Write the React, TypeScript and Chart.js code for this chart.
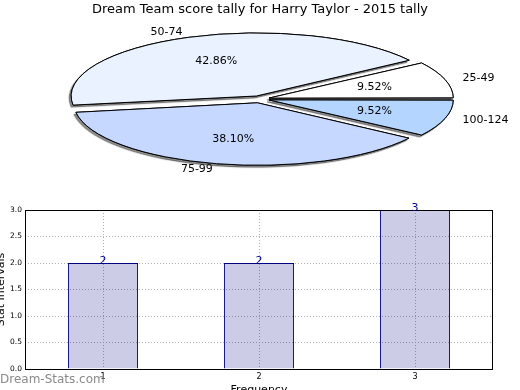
import React, { useEffect, useRef } from "react";
import { Chart, registerables } from "chart.js";

Chart.register(...registerables);

// ---- data ----
const pieLabels = ["100-124", "75-99", "50-74", "25-49"];
const pieValues = [2, 8, 9, 2];
const pieColors = ["#b4d5ff", "#c6d8ff", "#eaf1ff", "#ffffff"];

const barCategories = ["1", "2", "3"];
const barValues = [2, 2, 3];

const TITLE = "Dream Team score tally for Harry Taylor - 2015 tally";
const Y_TITLE = "Stat Intervals";
const X_TITLE = "Frequency";
const WATERMARK = "Dream-Stats.com";

const FONT = "'DejaVu Sans', sans-serif";
const K = 0.34; // vertical squash of the pie (ellipse)
const EXPLODE = [38, 46, 38, 38]; // chart.js arc offsets
const RADIUS = 180;
const LABEL_R = 184;

const ellipsePlugin = {
  id: "ellipsePie",
  beforeDatasetsDraw(chart: any) {
    const ctx = chart.ctx;
    const a = chart.chartArea;
    const cy = (a.top + a.bottom) / 2;
    ctx.save();
    ctx.transform(1, 0, 0, K, 0, cy * (1 - K));
    (ctx as any).stroke = function (...args: any[]) {
      this.save();
      this.setTransform(1, 0, 0, 1, 0, 0);
      (CanvasRenderingContext2D.prototype.stroke as any).apply(this, args);
      this.restore();
    };
    ctx.shadowColor = "rgba(0,0,0,0.45)";
    ctx.shadowOffsetX = -2;
    ctx.shadowOffsetY = 2;
    ctx.shadowBlur = 1;
  },
  afterDatasetsDraw(chart: any) {
    const ctx = chart.ctx;
    ctx.shadowColor = "rgba(0,0,0,0)";
    ctx.shadowOffsetX = 0;
    ctx.shadowOffsetY = 0;
    ctx.shadowBlur = 0;
    const meta = chart.getDatasetMeta(0);
    meta.data.forEach((el: any) => el.draw(ctx));
    delete (ctx as any).stroke;
    ctx.restore();

    // labels
    const total = pieValues.reduce((s, v) => s + v, 0);
    ctx.save();
    ctx.font = `11px ${FONT}`;
    ctx.fillStyle = "#000";
    ctx.textBaseline = "middle";
    meta.data.forEach((el: any, i: number) => {
      const t = 38 / 4;
      const mid = (el.startAngle + el.endAngle) / 2;
      const c = Math.cos(mid);
      const s = Math.sin(mid);
      const cx = el.x;
      const cy = el.y;
      const rp = t + 0.6 * LABEL_R;
      ctx.textAlign = "center";
      ctx.fillText(
        ((pieValues[i] / total) * 100).toFixed(2) + "%",
        cx + c * rp,
        cy + s * rp * K
      );
      const rl = t + 1.1 * LABEL_R;
      ctx.textAlign = c > 0 ? "left" : "right";
      ctx.fillText(pieLabels[i], cx + c * rl, cy + s * rl * K);
    });
    ctx.restore();
  },
};

const barPlugin = {
  id: "barExtras",
  afterDatasetsDraw(chart: any) {
    const ctx = chart.ctx;
    const a = chart.chartArea;
    ctx.save();
    // frame
    ctx.strokeStyle = "#000";
    ctx.lineWidth = 1;
    ctx.strokeRect(a.left + 0.5, a.top + 0.5, a.right - a.left - 1, a.bottom - a.top);
    // values
    ctx.font = `11px ${FONT}`;
    ctx.fillStyle = "#000080";
    ctx.textAlign = "center";
    ctx.textBaseline = "alphabetic";
    const meta = chart.getDatasetMeta(0);
    meta.data.forEach((el: any, i: number) => {
      ctx.fillText(String(barValues[i]), el.x, el.y + 0.5);
    });
    // watermark
    ctx.font = `12px ${FONT}`;
    ctx.fillStyle = "#8a8a8a";
    ctx.textAlign = "left";
    ctx.textBaseline = "middle";
    ctx.fillText(WATERMARK, 0, 189.5);
    ctx.restore();
  },
};

export default function App() {
  const pieRef = useRef<HTMLCanvasElement>(null);
  const barRef = useRef<HTMLCanvasElement>(null);

  useEffect(() => {
    const pie = new Chart(pieRef.current as HTMLCanvasElement, {
      type: "pie",
      data: {
        labels: pieLabels,
        datasets: [
          {
            data: pieValues,
            backgroundColor: pieColors,
            borderColor: "#000",
            borderWidth: 1,
            offset: EXPLODE,
            clip: false,
          } as any,
        ],
      },
      options: {
        animation: false,
        responsive: false,
        rotation: 90,
        radius: RADIUS,
        layout: { padding: { top: 0, bottom: 21.6, left: 0, right: 0 } },
        plugins: {
          legend: { display: false },
          tooltip: { enabled: false },
          title: {
            display: true,
            text: TITLE,
            color: "#000",
            font: { family: FONT, size: 13, weight: "normal" },
            padding: { top: 2, bottom: 2 },
          },
        },
      } as any,
      plugins: [ellipsePlugin],
    });

    const bar = new Chart(barRef.current as HTMLCanvasElement, {
      type: "bar",
      data: {
        labels: barCategories,
        datasets: [
          {
            data: barValues,
            backgroundColor: "rgba(0,0,128,0.2)",
            borderColor: "#000080",
            borderWidth: 1,
            barPercentage: 0.45,
            categoryPercentage: 1,
          },
        ],
      },
      options: {
        animation: false,
        responsive: false,
        layout: { padding: { top: 20, right: 27, left: 0, bottom: 0 } },
        scales: {
          x: {
            grid: { offset: false, color: "#b0b0b0", drawTicks: false, lineWidth: 1 },
            border: { display: false, dash: [1, 2] },
            ticks: { font: { family: FONT, size: 8 }, color: "#000", padding: 3 },
            title: {
              display: true,
              text: X_TITLE,
              color: "#000",
              font: { family: FONT, size: 11 },
              padding: { top: 0, bottom: -6.3 },
            },
            afterFit: (s: any) => {
              s.height = 21;
            },
          },
          y: {
            min: 0,
            max: 3,
            grid: { color: "#b0b0b0", drawTicks: false, lineWidth: 1 },
            border: { display: false, dash: [1, 2] },
            ticks: {
              stepSize: 0.5,
              font: { family: FONT, size: 7.5 },
              color: "#000",
              padding: 3,
              callback: (v: any) => Number(v).toFixed(1),
            },
            title: {
              display: true,
              text: Y_TITLE,
              color: "#000",
              font: { family: FONT, size: 11 },
              padding: { top: -5.1, bottom: 0 },
            },
            afterFit: (s: any) => {
              s.width = 25;
            },
          },
        },
        plugins: {
          legend: { display: false },
          tooltip: { enabled: false },
        },
      } as any,
      plugins: [barPlugin],
    });

    return () => {
      pie.destroy();
      bar.destroy();
    };
  }, []);

  return (
    <div
      style={{
        position: "fixed",
        left: 0,
        top: 0,
        width: 520,
        height: 390,
        overflow: "hidden",
        background: "#fff",
      }}
    >
      <canvas
        ref={pieRef}
        width={520}
        height={200}
        style={{ position: "absolute", left: 0, top: 0, width: 520, height: 200 }}
      />
      <canvas
        ref={barRef}
        width={520}
        height={200}
        style={{ position: "absolute", left: 0, top: 190, width: 520, height: 200 }}
      />
    </div>
  );
}
